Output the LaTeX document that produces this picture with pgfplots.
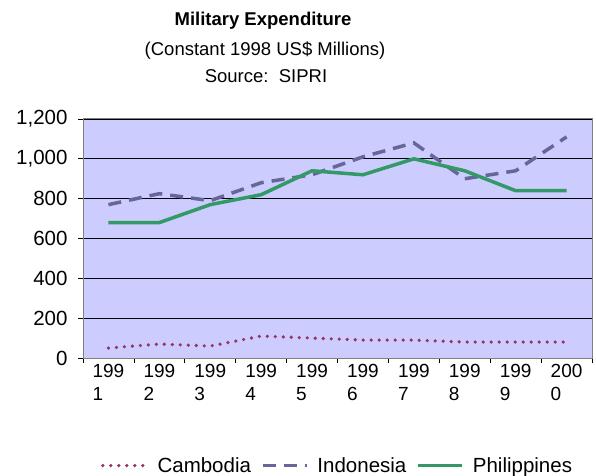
\documentclass[border=0pt]{standalone}
\usepackage{pgfplots}
\pgfplotsset{compat=1.18}
\usepackage{fontspec}
\setmainfont{Liberation Sans}

\definecolor{plotbg}{HTML}{CCCCFF}
\definecolor{cambodia}{HTML}{993366}
\definecolor{indonesia}{HTML}{666699}
\definecolor{philippines}{HTML}{339966}
\definecolor{frame}{HTML}{808080}

\newcommand{\chartfont}{\fontsize{18.5bp}{23bp}\selectfont}
\newcommand{\bigchartfont}{\fontsize{20.5bp}{24bp}\selectfont}

\begin{document}
\begin{tikzpicture}
\useasboundingbox (0,0) rectangle (596bp,476bp);

% titles
\node[anchor=base, inner sep=0pt, font=\bfseries\chartfont] at (263bp,450bp) {Military Expenditure};
\node[anchor=base, inner sep=0pt, font=\chartfont] at (265bp,420bp) {(Constant 1998 US\$ Millions)};
\node[anchor=base, inner sep=0pt, font=\chartfont] at (266bp,393bp) {Source:\ \ SIPRI};

\begin{axis}[
  at={(83bp,118bp)}, anchor=south west,
  scale only axis, width=509bp, height=239bp,
  xmin=0.5, xmax=10.5, ymin=0, ymax=1200,
  axis background/.style={fill=plotbg},
  axis line style={draw=frame, line width=1bp},
  tick align=outside, major tick length=5bp,
  tick style={black, line width=0.8bp},
  xtick pos=left, ytick pos=left,
  xtick={0.5,1.5,...,10.5}, xticklabels={},
  extra x ticks={1,2,...,10},
  extra x tick labels={199\\1,199\\2,199\\3,199\\4,199\\5,199\\6,199\\7,199\\8,199\\9,200\\0},
  extra x tick style={tick style={draw=none}, grid=none},
  xticklabel style={align=left, font=\fontsize{19bp}{23bp}\selectfont, inner sep=1bp},
  ytick={0,200,...,1200},
  yticklabels={0,200,400,600,800,{1,000},{1,200}},
  yticklabel style={font=\bigchartfont, xshift=-7bp},
  ymajorgrids, grid style={black, line width=0.8bp},
  legend style={at={(0.5,-0.45)}, anchor=center, draw=none, fill=none,
    font=\bigchartfont, legend columns=3,
    /tikz/every even column/.append style={column sep=8bp}},
  legend image code/.code={\draw[#1] (0bp,0bp) -- (44bp,0bp); \path (51bp,0bp);},
]
\addplot[cambodia, line width=3.6bp, line cap=round, dash pattern=on 0bp off 8bp]
  coordinates {(1,50) (2,70) (3,60) (4,110) (5,100) (6,90) (7,90) (8,80) (9,80) (10,80)};
\addlegendentry{Cambodia}
\addplot[indonesia, line width=3.5bp, dash pattern=on 13bp off 8bp]
  coordinates {(1,770) (2,825) (3,790) (4,880) (5,920) (6,1010) (7,1080) (8,900) (9,940) (10,1110)};
\addlegendentry{Indonesia}
\addplot[philippines, line width=3.5bp]
  coordinates {(1,680) (2,680) (3,770) (4,820) (5,940) (6,920) (7,1000) (8,940) (9,840) (10,840)};
\addlegendentry{Philippines}
\end{axis}
\end{tikzpicture}
\end{document}
